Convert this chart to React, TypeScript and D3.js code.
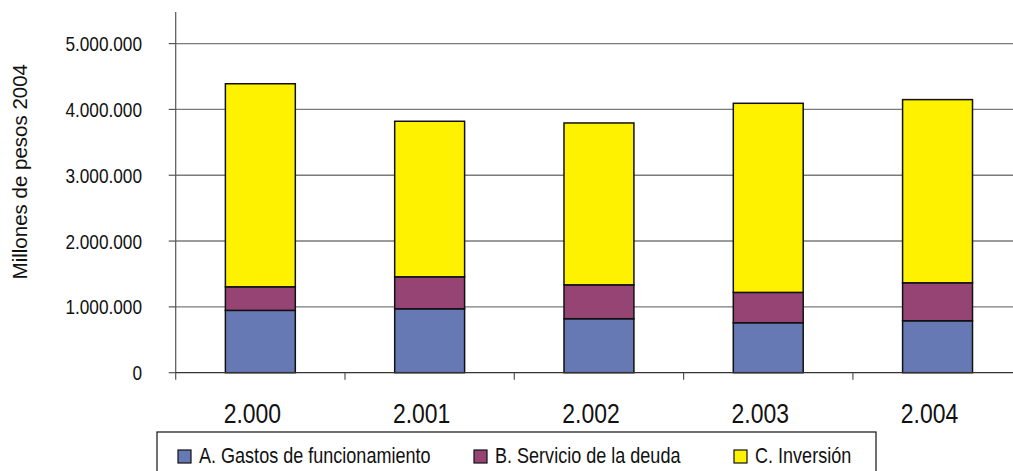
import * as d3 from 'd3'

const years = ['2.000', '2.001', '2.002', '2.003', '2.004']
const seriesNames = ['A. Gastos de funcionamiento', 'B. Servicio de la deuda', 'C. Inversión']
const gastos = [947000, 971000, 820000, 759000, 789000]
const deuda = [358000, 486000, 515000, 461000, 577000]
const inversion = [3085000, 2363000, 2459000, 2873000, 2783000]
const yTicks = [0, 1000000, 2000000, 3000000, 4000000, 5000000]
const colors = ['#6679B4', '#954473', '#FFF200']

const W = 1013
const H = 471
const font = '"Liberation Sans", Arial, sans-serif'

// condensed text: the source uses a narrow face, so squeeze horizontally
function NText({ x, y, size, anchor = 'start', children }: any) {
  return (
    <text
      transform={`translate(${x},${y}) scale(0.82,1)`}
      textAnchor={anchor}
      fontFamily={font}
      fontSize={size}
      fill="#111"
    >
      {children}
    </text>
  )
}

export default function App() {
  const rows = years.map((y, i) => ({ year: y, a: gastos[i], b: deuda[i], c: inversion[i] }))
  const stacked = d3.stack<any>().keys(['a', 'b', 'c'])(rows)

  const x = d3.scaleBand().domain(years).range([175.7, 1022.2]).paddingInner(0.587).paddingOuter(0.2935)
  const y = d3.scaleLinear().domain([0, 5480000]).range([372.7, 12])
  const fmt = (v: number) => (v === 0 ? '0' : d3.format(',')(v).replace(/,/g, '.'))
  const step = x.step()
  const x0 = x.range()[0]

  return (
    <svg width={W} height={H} style={{ position: 'absolute', left: 0, top: 0, background: '#fff' }}>
      <rect width={W} height={H} fill="#fff" />
      {/* grid */}
      {yTicks.filter(t => t > 0).map(t => (
        <line key={t} x1={x0} x2={W} y1={y(t)} y2={y(t)} stroke="#7a7a7a" strokeWidth={1.4} />
      ))}
      {/* y ticks + labels */}
      {yTicks.map(t => (
        <g key={t}>
          <line x1={x0 - 7} x2={x0} y1={y(t)} y2={y(t)} stroke="#555" strokeWidth={1.2} />
          <NText x={142} y={y(t) + 7.5} size={21} anchor="end">
            {fmt(t)}
          </NText>
        </g>
      ))}
      {/* bars */}
      {stacked.map((s, si) => (
        <g key={si}>
          {s.map((d, i) => (
            <rect
              key={i}
              x={x(years[i])}
              width={x.bandwidth()}
              y={y(d[1])}
              height={y(d[0]) - y(d[1])}
              fill={colors[si]}
              stroke="#111"
              strokeWidth={1.5}
            />
          ))}
        </g>
      ))}
      {/* axes */}
      <line x1={x0} x2={x0} y1={y.range()[1]} y2={y(0) + 7} stroke="#555" strokeWidth={1.2} />
      <line x1={x0} x2={W} y1={y(0)} y2={y(0)} stroke="#333" strokeWidth={1.2} />
      {years.map((yr, i) => (
        <line key={yr} x1={x0 + step * (i + 1)} x2={x0 + step * (i + 1)} y1={y(0)} y2={y(0) + 7} stroke="#555" strokeWidth={1.2} />
      ))}
      {years.map(yr => (
        <NText key={yr} x={(x(yr) as number) + x.bandwidth() / 2 - 8} y={423} size={28} anchor="middle">
          {yr}
        </NText>
      ))}
      <text transform="translate(27,171.7) rotate(-90)" textAnchor="middle" fontFamily={font} fontSize={20.5} fill="#111">
        Millones de pesos 2004
      </text>
      {/* legend */}
      <rect x={157} y={432} width={719} height={60} fill="#fff" stroke="#111" strokeWidth={1.2} />
      {seriesNames.map((n, i) => {
        const lx = [178, 474, 734][i]
        return (
          <g key={n}>
            <rect x={lx} y={450} width={13} height={13} fill={colors[i]} stroke="#111" strokeWidth={1.2} />
            <NText x={lx + 21} y={463.3} size={22}>
              {n}
            </NText>
          </g>
        )
      })}
    </svg>
  )
}
